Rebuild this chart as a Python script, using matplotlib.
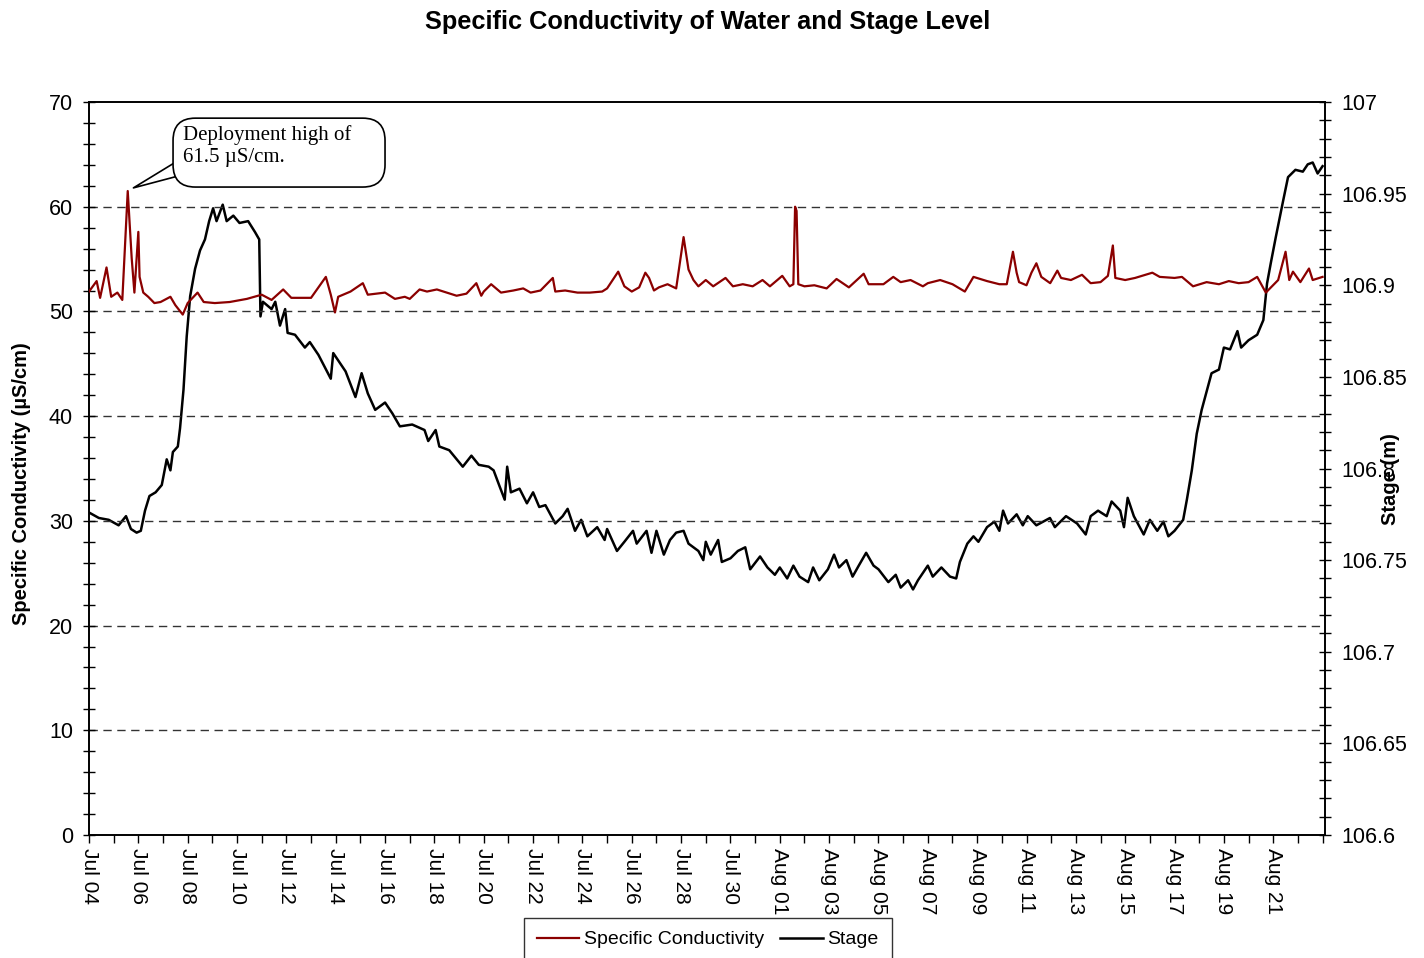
import matplotlib
matplotlib.use("Agg")
import matplotlib.pyplot as plt
import matplotlib.dates as mdates
from matplotlib.ticker import MultipleLocator
from matplotlib.patches import FancyBboxPatch
import pandas as pd

plt.rcParams['font.family'] = ['Liberation Sans', 'DejaVu Sans']

# --- data ---
debut = pd.Timestamp("2012-07-04")

# conductivity: days since Jul 04, value in uS/cm
jours_cond = [0.0, 0.31, 0.45, 0.71, 0.9, 1.15, 1.35, 1.57, 1.73, 1.84, 2.0, 2.05, 2.2, 2.4,
              2.65, 2.9, 3.3, 3.5, 3.8, 4.0, 4.4, 4.65, 5.1, 5.7, 6.4, 7.0, 7.4, 7.87, 8.2,
              9.0, 9.6, 9.8, 9.97, 10.1, 10.6, 11.1, 11.3, 12.0, 12.4, 12.8, 13.0, 13.4,
              13.7, 14.1, 14.5, 14.9, 15.3, 15.7, 15.9, 16.0, 16.3, 16.7, 17.2, 17.6, 17.9,
              18.3, 18.8, 18.9, 19.3, 19.8, 20.3, 20.8, 21.0, 21.45, 21.7, 22.0, 22.3,
              22.55, 22.7, 22.9, 23.1, 23.45, 23.8, 24.1, 24.3, 24.5, 24.7, 25.0, 25.3,
              25.8, 26.1, 26.5, 26.9, 27.3, 27.6, 28.1, 28.4, 28.55, 28.62, 28.68, 28.75,
              29.0, 29.4, 29.9, 30.3, 30.8, 31.4, 31.6, 32.2, 32.6, 32.9, 33.3, 33.8, 34.0,
              34.5, 35.0, 35.5, 35.85, 36.4, 36.9, 37.2, 37.45, 37.6, 37.7, 38.0, 38.2,
              38.4, 38.6, 38.96, 39.25, 39.4, 39.8, 40.25, 40.6, 41.0, 41.3, 41.5, 41.6,
              42.0, 42.4, 43.1, 43.4, 44.0, 44.3, 44.75, 45.3, 45.8, 46.2, 46.6, 47.0,
              47.35, 47.7, 48.2, 48.5, 48.65, 48.8, 49.1, 49.45, 49.6, 50.0]
conductivite = [51.9, 52.9, 51.3, 54.2, 51.4, 51.8, 51.1, 61.5, 55.1, 51.8, 57.6, 53.3, 51.8, 51.4,
                50.8, 50.9, 51.4, 50.6, 49.7, 50.8, 51.8, 50.9, 50.8, 50.9, 51.2, 51.6, 51.1, 52.1, 51.3,
                51.3, 53.3, 51.6, 49.9, 51.4, 51.9, 52.7, 51.6, 51.8, 51.2, 51.4, 51.2, 52.1,
                51.9, 52.1, 51.8, 51.5, 51.7, 52.7, 51.5, 51.9, 52.6, 51.8, 52.0, 52.2, 51.8,
                52.0, 53.2, 51.9, 52.0, 51.8, 51.8, 51.9, 52.2, 53.8, 52.4, 51.9, 52.3,
                53.7, 53.2, 52.0, 52.3, 52.6, 52.2, 57.1, 54.0, 53.0, 52.4, 53.0, 52.4,
                53.2, 52.4, 52.6, 52.4, 53.0, 52.4, 53.4, 52.4, 52.6, 60.0, 59.6, 52.6,
                52.4, 52.5, 52.2, 53.1, 52.3, 53.6, 52.6, 52.6, 53.3, 52.8, 53.0, 52.4, 52.7,
                53.0, 52.6, 51.9, 53.3, 52.9, 52.6, 52.6, 55.7, 53.7, 52.8, 52.5, 53.7,
                54.6, 53.3, 52.7, 53.9, 53.2, 53.0, 53.5, 52.7, 52.8, 53.4, 56.3, 53.2,
                53.0, 53.2, 53.7, 53.3, 53.2, 53.3, 52.4, 52.8, 52.6, 52.9, 52.7, 52.8,
                53.3, 51.8, 53.0, 55.7, 53.0, 53.8, 52.8, 54.1, 53.0, 53.3]

# stage: days since Jul 04, level in m
jours_stage = [0.0, 0.4, 0.8, 1.2, 1.5, 1.7, 1.93, 2.1, 2.27, 2.45, 2.7, 2.95, 3.15, 3.3, 3.4,
               3.6, 3.69, 3.83, 3.96, 4.1, 4.3, 4.5, 4.7, 4.87, 5.03, 5.17, 5.42, 5.58, 5.85,
               6.1, 6.45, 6.73, 6.9, 6.95, 7.05, 7.4, 7.55, 7.74, 7.95, 8.05, 8.35, 8.75,
               8.95, 9.3, 9.8, 9.9, 10.4, 10.8, 11.05, 11.3, 11.6, 12.0, 12.3, 12.6, 13.1,
               13.6, 13.75, 14.05, 14.2, 14.6, 15.15, 15.5, 15.8, 16.2, 16.4, 16.65, 16.85,
               16.95, 17.1, 17.45, 17.75, 18.0, 18.25, 18.5, 18.9, 19.2, 19.4, 19.7, 19.95,
               20.2, 20.6, 20.9, 21.0, 21.4, 21.7, 22.05, 22.2, 22.6, 22.8, 23.0, 23.3,
               23.55, 23.8, 24.1, 24.3, 24.7, 24.9, 25.0, 25.2, 25.5, 25.65, 26.0, 26.3,
               26.6, 26.8, 27.2, 27.5, 27.8, 28.0, 28.3, 28.55, 28.8, 29.15, 29.35, 29.6,
               29.95, 30.2, 30.4, 30.7, 30.95, 31.2, 31.5, 31.8, 32.0, 32.4, 32.7, 32.9,
               33.2, 33.4, 33.6, 34.0, 34.2, 34.55, 34.9, 35.15, 35.3, 35.6, 35.85, 36.05,
               36.4, 36.7, 36.9, 37.05, 37.25, 37.6, 37.85, 38.05, 38.4, 38.95, 39.15, 39.6,
               40.05, 40.4, 40.6, 40.9, 41.25, 41.45, 41.8, 41.95, 42.1, 42.35, 42.75, 43.0,
               43.3, 43.55, 43.75, 44.0, 44.35, 44.5, 44.7, 44.9, 45.1, 45.3, 45.5, 45.8,
               46.0, 46.25, 46.55, 46.7, 47.0, 47.35, 47.6, 47.75, 47.9, 48.1, 48.4, 48.6,
               48.9, 49.2, 49.4, 49.6, 49.8, 50.0]
stage = [106.776, 106.773, 106.772, 106.769, 106.774, 106.767, 106.765, 106.766, 106.777, 106.785,
         106.787, 106.791, 106.805, 106.799, 106.809, 106.812, 106.822, 106.843, 106.872, 106.894,
         106.909, 106.919, 106.925, 106.935, 106.942, 106.935, 106.944, 106.935, 106.938, 106.934,
         106.935, 106.929, 106.925, 106.883, 106.891, 106.887, 106.891, 106.878, 106.887, 106.874,
         106.873, 106.866, 106.869, 106.862, 106.849, 106.863, 106.853, 106.839, 106.852, 106.841,
         106.832, 106.836, 106.830, 106.823, 106.824, 106.821, 106.815, 106.821, 106.812, 106.810,
         106.801, 106.807, 106.802, 106.801, 106.799, 106.790, 106.783, 106.801, 106.787, 106.789,
         106.781, 106.787, 106.779, 106.780, 106.770, 106.774, 106.778, 106.766, 106.772, 106.763,
         106.768, 106.761, 106.767, 106.755, 106.760, 106.766, 106.759, 106.766, 106.754, 106.766,
         106.753, 106.761, 106.765, 106.766, 106.759, 106.755, 106.750, 106.760, 106.753, 106.761,
         106.749, 106.751, 106.755, 106.757, 106.745, 106.752, 106.746, 106.742, 106.746, 106.740,
         106.747, 106.741, 106.738, 106.746, 106.739, 106.745, 106.753, 106.746, 106.750, 106.741,
         106.747, 106.754, 106.747, 106.745, 106.738, 106.742, 106.735, 106.739, 106.734, 106.739,
         106.747, 106.741, 106.746, 106.741, 106.740, 106.749, 106.759, 106.763, 106.760, 106.768,
         106.771, 106.766, 106.777, 106.770, 106.775, 106.769, 106.774, 106.769, 106.773, 106.768,
         106.774, 106.770, 106.764, 106.774, 106.777, 106.774, 106.782, 106.777, 106.768, 106.784,
         106.774, 106.764, 106.772, 106.766, 106.771, 106.763, 106.766, 106.772, 106.783, 106.799,
         106.819, 106.832, 106.842, 106.852, 106.854, 106.866, 106.865, 106.875, 106.866, 106.870,
         106.873, 106.881, 106.901, 106.912, 106.926, 106.946, 106.959, 106.963, 106.962, 106.966,
         106.967, 106.961, 106.965]

dates_cond = debut + pd.to_timedelta(jours_cond, unit="D")
dates_stage = debut + pd.to_timedelta(jours_stage, unit="D")

# --- figure ---
fig = plt.figure(figsize=(14.24, 9.58), dpi=100)
ax = fig.add_axes([0.0625, 0.1284, 0.868, 0.7651])
ax2 = ax.twinx()

l1, = ax.plot(dates_cond, conductivite, color="#8B0000", lw=1.6, label="Specific Conductivity", zorder=3)
l2, = ax2.plot(dates_stage, stage, color="black", lw=1.8, label="Stage", zorder=2)
ax.set_zorder(ax2.get_zorder() + 1)
ax.patch.set_visible(False)

ax.set_ylim(0, 70)
ax2.set_ylim(106.6, 107.0)
ax.set_xlim(debut, debut + pd.Timedelta(days=50.1))

ax.yaxis.set_major_locator(MultipleLocator(10))
ax.yaxis.set_minor_locator(MultipleLocator(2))
ax2.yaxis.set_major_locator(MultipleLocator(0.05))
ax2.yaxis.set_minor_locator(MultipleLocator(0.01))
ax2.yaxis.set_major_formatter(plt.FuncFormatter(lambda v, p: f"{v:g}"))

ax.set_xticks(pd.date_range(debut, "2012-08-21", freq="2D"))
ax.xaxis.set_minor_locator(mdates.DayLocator())
ax.xaxis.set_major_formatter(mdates.DateFormatter("%b %d"))
for lab in ax.get_xticklabels():
    lab.set_rotation(270)

ax.tick_params(axis="y", which="both", direction="inout", length=8, labelsize=15.5, width=1, pad=7.5)
ax2.tick_params(axis="y", which="both", direction="inout", length=8, labelsize=15.5, width=1, pad=7.5)
ax.tick_params(axis="x", which="both", direction="out", length=6, labelsize=15, width=1)

for a in (ax, ax2):
    for s in a.spines.values():
        s.set_linewidth(1.2)

for v in range(10, 70, 10):
    ax.axhline(v, color="#333333", lw=1, ls=(0, (6, 4)), zorder=1)

ax.set_ylabel("Specific Conductivity (µS/cm)", fontsize=14.5, fontweight="bold")
ax.yaxis.set_label_coords(-0.047, 0.48)
ax2.set_ylabel("Stage (m)", fontsize=14.5, fontweight="bold")
ax2.yaxis.set_label_coords(1.045, 0.485)

fig.suptitle("Specific Conductivity of Water and Stage Level", fontsize=18.3,
             fontweight="bold", x=0.497, y=0.99)

# callout bubble pointing at the deployment high
ax.annotate("", xy=(debut + pd.Timedelta(days=1.8), 61.8), xytext=(0.075, 0.911),
            textcoords="axes fraction",
            arrowprops=dict(arrowstyle="wedge,tail_width=1.1", fc="white", ec="black", lw=1.2,
                            shrinkA=0, shrinkB=0), zorder=5)
bulle = FancyBboxPatch((0.068, 0.884), 0.1715, 0.094, transform=ax.transAxes,
                       boxstyle="round,pad=0,rounding_size=0.018", mutation_aspect=1.69,
                       fc="white", ec="black", lw=1.2, zorder=6)
ax.add_patch(bulle)
ax.text(0.076, 0.940, "Deployment high of\n61.5 µS/cm.", transform=ax.transAxes,
        fontsize=15, family=["Liberation Serif", "DejaVu Serif"], va="center", ha="left",
        linespacing=1.15, zorder=7)

leg = fig.legend(handles=[l1, l2], loc="upper center", bbox_to_anchor=(0.497, 0.0418), ncol=2,
                 fontsize=14, frameon=True, fancybox=False, edgecolor="black", borderaxespad=0,
                 handlelength=2.2, handletextpad=0.25, columnspacing=0.8, borderpad=0.66)
leg.get_frame().set_linewidth(1)

fig.savefig("out.png", dpi=100)
